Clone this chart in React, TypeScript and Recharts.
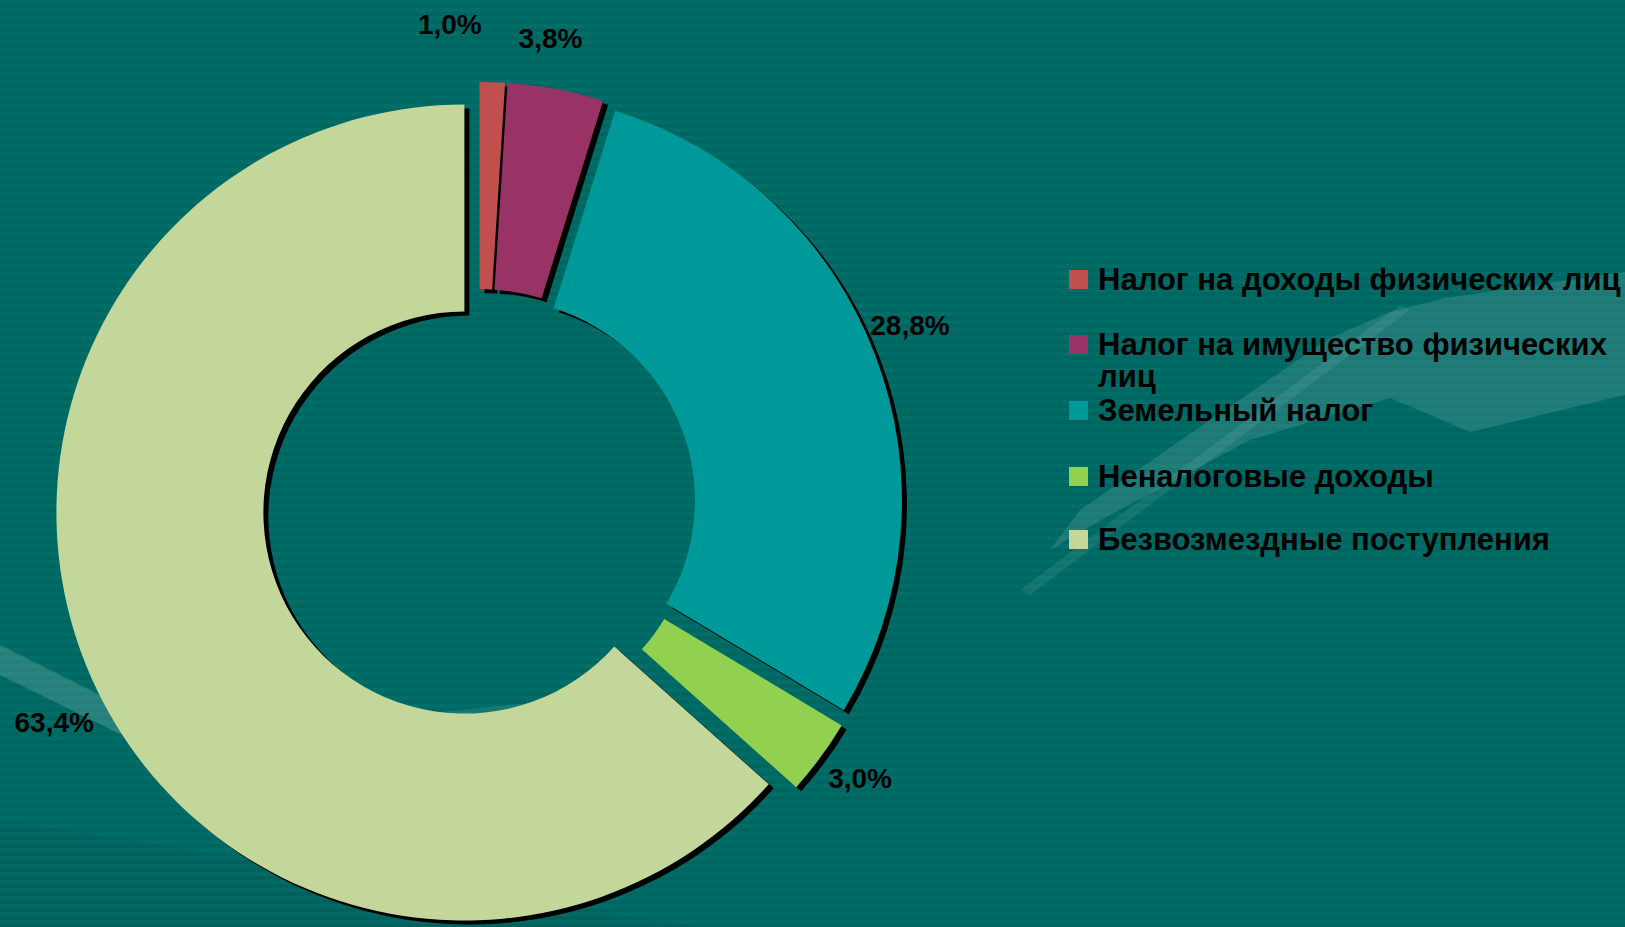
import React from 'react';
import { PieChart, Pie, Cell, Legend } from 'recharts';

// ---- data ----
const categories = [
  'Налог на доходы физических лиц',
  'Налог на имущество физических лиц',
  'Земельный налог',
  'Неналоговые доходы',
  'Безвозмездные поступления',
];
const values = [1.0, 3.8, 28.8, 3.0, 63.4];
const valueLabels = ['1,0%', '3,8%', '28,8%', '3,0%', '63,4%'];
const colors = ['#c0504d', '#993366', '#009999', '#92d050', '#c4d79b'];

const data = categories.map((name, i) => ({ name, value: values[i] }));

// ---- layout / style ----
const W = 1625;
const H = 927;
const CX = 479;
const CY = 506;
const OUTER = 408;
const INNER = 201;
const EXPLODE = 16;
const SHADOW_DX = 5;
const SHADOW_DY = 4;
const LABEL_GAP = 48;
const labelNudge: [number, number][] = [[-44, -10], [-14, -3], [-10, -12], [1, -7], [6, 24]];
const legendTops = [0, 66, 131, 197, 260];
const legendWraps = [false, true, false, false, false];
const FONT = '"Liberation Sans", Arial, sans-serif';
const RAD = Math.PI / 180;

const total = values.reduce((a, b) => a + b, 0);
const centers = values.map((v, i) => {
  const before = values.slice(0, i).reduce((a, b) => a + b, 0);
  const theta = ((before + v / 2) / total) * 360 * RAD; // clockwise from top
  return { x: CX + EXPLODE * Math.sin(theta), y: CY - EXPLODE * Math.cos(theta) };
});

const makeLabel = (i: number) => (props: any) => {
  if (props.index !== i) return null;
  const r = OUTER + LABEL_GAP;
  const x = centers[i].x + r * Math.cos(-props.midAngle * RAD) + labelNudge[i][0];
  const y = centers[i].y + r * Math.sin(-props.midAngle * RAD) + labelNudge[i][1];
  return (
    <text
      x={x}
      y={y}
      textAnchor="middle"
      dominantBaseline="central"
      fill="#000"
      fontFamily={FONT}
      fontWeight="bold"
      fontSize={28}
    >
      {valueLabels[i]}
    </text>
  );
};

const LegendContent = () => (
  <div style={{ position: 'relative', width: 556, height: 300, fontFamily: FONT }}>
    {categories.map((c, i) => (
      <div
        key={c}
        style={{
          position: 'absolute',
          left: 0,
          top: legendTops[i],
          fontSize: 31,
          lineHeight: legendWraps[i] ? '32px' : '35px',
          fontWeight: 'bold',
          color: '#000',
        }}
      >
        <span
          style={{
            position: 'absolute',
            left: 0,
            top: legendWraps[i] ? 7 : 8,
            width: 19,
            height: 19,
            background: colors[i],
          }}
        />
        <div
          style={{
            marginLeft: 29,
            marginTop: legendWraps[i] ? 1 : 0,
            width: legendWraps[i] ? 535 : undefined,
            whiteSpace: legendWraps[i] ? 'normal' : 'nowrap',
          }}
        >
          {c}
        </div>
      </div>
    ))}
  </div>
);

export default function App() {
  return (
    <div
      style={{
        position: 'absolute',
        left: 0,
        top: 0,
        width: W,
        height: H,
        overflow: 'hidden',
        background:
          'repeating-linear-gradient(to bottom, #006d68 0px, #006d68 4px, #006660 4px, #006660 8px)',
      }}
    >
      <svg width={W} height={H} style={{ position: 'absolute', left: 0, top: 0 }}>
        <polygon points="0,645 270,780 270,808 0,675" fill="rgba(255,255,255,0.16)" />
        <polygon
          points="1390,312 1445,298 1625,272 1625,395 1470,432 1390,398 1250,440 1110,515 1050,550 1080,510 1210,420 1330,338"
          fill="rgba(255,255,255,0.12)"
        />
        <polygon points="1020,590 1400,305 1410,310 1030,595" fill="rgba(255,255,255,0.08)" />
        <polygon points="440,712 560,700 620,690 600,720 450,730" fill="rgba(255,255,255,0.1)" />
        <polygon points="0,820 700,927 0,927" fill="rgba(0,0,0,0.03)" />
      </svg>
      <div style={{ position: 'absolute', left: 0, top: 0 }}>
        <PieChart width={W} height={H} margin={{ top: 0, right: 0, bottom: 0, left: 0 }}>
          {values.map((_, i) => (
            <Pie
              key={'s' + i}
              data={data}
              dataKey="value"
              nameKey="name"
              cx={centers[i].x + SHADOW_DX}
              cy={centers[i].y + SHADOW_DY}
              innerRadius={INNER}
              outerRadius={OUTER}
              startAngle={90}
              endAngle={-270}
              stroke="none"
              isAnimationActive={false}
              labelLine={false}
              legendType="none"
            >
              {data.map((d, j) => (
                <Cell key={j} fill={j === i ? '#000000' : 'transparent'} />
              ))}
            </Pie>
          ))}
          {values.map((_, i) => (
            <Pie
              key={'p' + i}
              data={data}
              dataKey="value"
              nameKey="name"
              cx={centers[i].x}
              cy={centers[i].y}
              innerRadius={INNER}
              outerRadius={OUTER}
              startAngle={90}
              endAngle={-270}
              stroke="none"
              isAnimationActive={false}
              labelLine={false}
              label={makeLabel(i)}
              legendType="none"
            >
              {data.map((d, j) => (
                <Cell key={j} fill={j === i ? colors[i] : 'transparent'} />
              ))}
            </Pie>
          ))}
          <Legend
            layout="vertical"
            align="right"
            verticalAlign="middle"
            content={<LegendContent />}
            wrapperStyle={{ position: 'absolute', left: 1069, top: 262, width: 556 }}
          />
        </PieChart>
      </div>
    </div>
  );
}
